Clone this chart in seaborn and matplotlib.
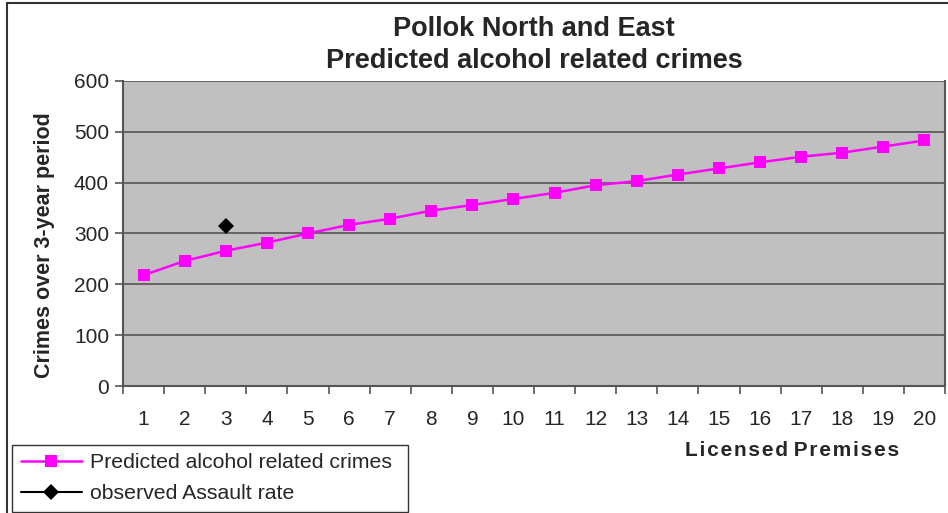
import numpy as np
import pandas as pd
import matplotlib
matplotlib.use("Agg")
import matplotlib.pyplot as plt
import seaborn as sns
from matplotlib.patches import Rectangle

# data
premises = list(range(1, 21))
predicted = [218, 246, 266, 282, 300, 317, 329, 345, 356, 368,
             380, 395, 403, 416, 428, 440, 451, 459, 471, 483]
obs_x = [3]
obs_y = [315]

title_lines = ["Pollok North and East", "Predicted alcohol related crimes"]
pred_label = "Predicted alcohol related crimes"
obs_label = "observed Assault rate"

sns.set_theme(style="white")
plt.rcParams['font.family'] = ['Liberation Sans', 'DejaVu Sans']

fig = plt.figure(figsize=(9.48, 5.13), dpi=100)
ax = fig.add_axes([123/948, 1 - 386/513, 822/948, 305/513])
ax.set_facecolor('#c0c0c0')

df = pd.DataFrame({'premises': premises, 'crimes': predicted})
sns.lineplot(data=df, x='premises', y='crimes', ax=ax, color='#ff00ff',
             marker='s', markersize=9, markeredgewidth=0, linewidth=1.8,
             label=pred_label)
df_obs = pd.DataFrame({'premises': obs_x, 'crimes': obs_y})
sns.lineplot(data=df_obs, x='premises', y='crimes', ax=ax, color='black',
             marker='D', markersize=8, markeredgewidth=0, linewidth=1.5,
             label=obs_label)

ax.set_xlim(0.5, 20.5)
ax.set_ylim(0, 600)
ax.set_yticks(range(0, 601, 100))
ax.set_xticks(premises)
ax.set_xticks(np.arange(0.5, 21, 1), minor=True)
ax.yaxis.grid(True, color='#555555', linewidth=1.2)
ax.set_axisbelow(True)
ax.tick_params(axis='x', which='major', length=0, pad=17, labelsize=15)
ax.tick_params(axis='x', which='minor', length=6, width=1.2, color='#555555',
               direction='out', bottom=True)
ax.tick_params(axis='y', length=6, width=1.2, color='#555555', direction='out',
               left=True, labelsize=15, pad=4)
for s in ax.spines.values():
    s.set_color('#555555')
    s.set_linewidth(1.5)
ax.spines['top'].set_visible(False)

ax.set_xlabel('')
ax.set_ylabel('Crimes over 3-year period', fontsize=15.5, fontweight='bold')
ax.yaxis.set_label_coords(-68/822, (386 - 245)/305)

fig.text(534/948, 1 - 29/513, title_lines[0], ha='center', va='center',
         fontsize=19.5, fontweight='bold')
fig.text(534/948, 1 - 61/513, title_lines[1], ha='center', va='center',
         fontsize=19.5, fontweight='bold')
fig.text(792/948, 1 - 451/513, 'L i c e n s e d  P r e m i s e s'.replace(' ', '\u200a').replace('\u200a\u200a', ' '),
         ha='center', va='center', fontsize=15, fontweight='bold')

leg = ax.legend(loc='upper left', bbox_to_anchor=(12/948, 1 - 445/513, 396/948, 0),
                bbox_transform=fig.transFigure, mode='expand', fontsize=15.3,
                frameon=True, fancybox=False, edgecolor='black', handlelength=2.9,
                borderaxespad=0, borderpad=0.4, labelspacing=0.55,
                handletextpad=0.35)
leg.get_frame().set_linewidth(1.0)

# outer chart border
fig.patches.append(Rectangle((7/948, -0.1), 1.0, 1 - 3/513 + 0.1,
                             transform=fig.transFigure, fill=False,
                             edgecolor='#333333', linewidth=1.5))

fig.savefig('out.png', dpi=100)
